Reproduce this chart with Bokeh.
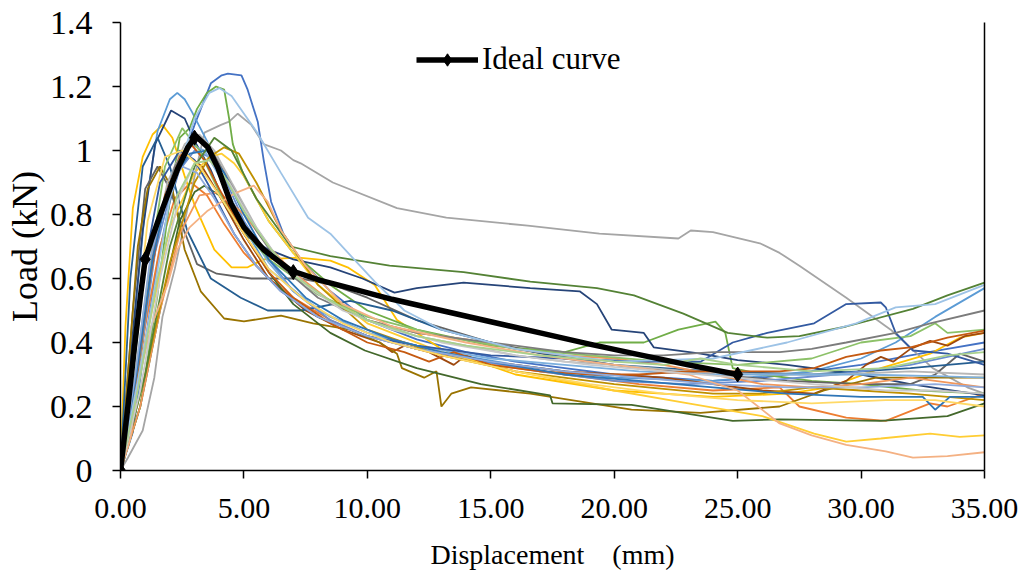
from bokeh.plotting import figure
from bokeh.models import Range1d, FixedTicker, NumeralTickFormatter, LinearAxis
from bokeh.embed import file_html
from bokeh.resources import INLINE

# ---------------- data ----------------
disp_01 = [0,0.5,1.0,1.5,2.0,2.5,3.0,3.66,4.1,4.35,4.9,5.15,5.56,5.8,6.1,6.6,7.3,8.5,10,12,14,16,18,20,22,24,26,28,30,32,33.5,35]
load_01 = [0,0.12,0.40,0.65,0.84,0.97,1.08,1.21,1.235,1.24,1.235,1.19,1.09,0.97,0.84,0.74,0.66,0.56,0.47,0.41,0.37,0.34,0.32,0.30,0.29,0.28,0.29,0.31,0.33,0.36,0.38,0.40]

disp_02 = [0,0.5,1.0,1.6,2.2,2.85,3.5,4.2,5,6,7,8.5,10,12,15,18,21,24,26.7,27.5,29.4,31,32.8,33.5,35]
load_02 = [0,0.18,0.45,0.70,0.85,0.90,0.86,0.77,0.68,0.60,0.54,0.47,0.42,0.38,0.33,0.30,0.27,0.25,0.26,0.20,0.165,0.155,0.21,0.20,0.24]

disp_03 = [0,0.3,0.9,1.37,1.7,2.2,2.8,3.4,4.07,4.4,4.75,5.3,5.8,6.5,7.0,7.3,8.6,11.2,13.2,16.5,19.4,22.6,23.1,24,25.9,26.7,27.5,29.4,31.2,32.9,34.3,35]
load_03 = [0,0.04,0.125,0.29,0.48,0.63,0.85,1.056,1.08,1.09,1.115,1.08,1.02,1.0,0.97,0.96,0.90,0.82,0.79,0.765,0.74,0.725,0.75,0.745,0.71,0.68,0.64,0.54,0.44,0.32,0.26,0.24]

disp_04 = [0,0.2,0.5,0.9,1.3,1.7,2.1,2.6,3.0,3.8,4.5,5.15,5.8,7.2,8.5,9.2,10.3,11.2,13,16,20,24,27,28.7,30.8,32.8,34,35]
load_04 = [0,0.45,0.82,0.98,1.05,1.08,1.04,0.92,0.83,0.69,0.635,0.635,0.66,0.665,0.656,0.635,0.58,0.47,0.38,0.30,0.25,0.23,0.24,0.26,0.32,0.365,0.415,0.43]

disp_05 = [0,0.5,1.0,1.5,2.0,2.3,2.6,2.9,3.5,4.2,5,6,8,10,13,16,20,24,28,30,31.4,33,35]
load_05 = [0,0.42,0.82,1.06,1.16,1.18,1.16,1.12,1.03,0.90,0.76,0.63,0.50,0.43,0.37,0.33,0.29,0.28,0.31,0.35,0.40,0.48,0.57]

disp_06 = [0,0.8,1.5,2.0,2.4,2.8,3.1,3.5,3.87,4.2,4.4,4.55,5,6,7,8.5,10,12,15,18,19.4,21.2,22.6,24.1,24.5,24.8,26,28,30,32.4,35]
load_06 = [0,0.2,0.55,0.85,1.04,1.07,1.13,1.18,1.20,1.19,1.10,1.02,0.92,0.78,0.68,0.58,0.50,0.44,0.39,0.37,0.40,0.40,0.44,0.465,0.43,0.32,0.30,0.28,0.27,0.25,0.24]

disp_07 = [0,0.4,0.9,1.4,2.05,2.6,3.0,3.65,4.3,5.15,6,7,8.5,9.8,11.1,12,13.9,16.6,18.6,19.3,19.9,21.2,21.6,23.5,25,27,30,32,35]
load_07 = [0,0.35,0.75,1.02,1.125,1.10,1.03,0.94,0.82,0.73,0.69,0.66,0.635,0.60,0.556,0.57,0.587,0.57,0.56,0.52,0.44,0.43,0.385,0.365,0.345,0.33,0.30,0.27,0.235]

disp_08 = [0,0.6,1.2,1.8,2.4,2.8,3.3,4,5,6,7.5,9,10.5,11,11.5,12.5,13.5,14,14.6,16,18,20,22,24,26,28.1,29.4,30.2,30.8,31.3,32,32.8,33.5,34.2,35]
load_08 = [0,0.25,0.6,0.85,0.95,0.98,0.95,0.86,0.72,0.60,0.50,0.44,0.40,0.37,0.39,0.37,0.33,0.36,0.34,0.33,0.31,0.30,0.29,0.27,0.25,0.24,0.28,0.33,0.355,0.34,0.38,0.405,0.39,0.42,0.43]

disp_09 = [0,0.5,1.0,1.5,2.0,2.45,3.1,3.9,5.3,7.3,8.6,10,12,15,18,21,24,27,30,32,33,34,35]
load_09 = [0,0.5,0.88,0.95,0.88,0.775,0.645,0.615,0.60,0.60,0.58,0.54,0.47,0.40,0.35,0.32,0.30,0.28,0.27,0.27,0.30,0.365,0.34]

disp_10 = [0,0.3,0.7,1.1,1.6,2.1,2.6,3.25,4.2,5.0,6.5,7.8,9.3,10.5,11.2,11.4,12.3,12.8,13.0,13.4,14.2,16.6,20.7,23.5,26.7,28.5,30.6,33,35]
load_10 = [0,0.3,0.7,0.88,0.95,0.88,0.69,0.56,0.475,0.466,0.484,0.46,0.44,0.40,0.365,0.32,0.29,0.31,0.20,0.24,0.26,0.24,0.19,0.18,0.20,0.25,0.29,0.29,0.29]

disp_11 = [0,0.4,0.9,1.5,2.0,2.7,3.66,4.87,5.96,7.3,9.3,11,13,16,20,24,28,32,35]
load_11 = [0,0.6,0.95,1.04,0.95,0.75,0.60,0.54,0.50,0.50,0.53,0.50,0.44,0.38,0.33,0.31,0.30,0.32,0.34]

disp_12 = [0,0.8,1.6,2.4,3.0,3.4,4.0,5,6,7,8.5,9.9,12,14.6,17.4,17.5,20.7,24.8,26.7,30.8,33.5,35]
load_12 = [0,0.2,0.5,0.78,0.87,0.89,0.86,0.74,0.62,0.52,0.43,0.375,0.32,0.27,0.235,0.21,0.205,0.155,0.16,0.155,0.17,0.21]

disp_13 = [0,0.7,1.4,2.2,3.0,3.6,4.3,5,6,7,8.5,10,12,14,17,20,23,26,29,32,35]
load_13 = [0,0.3,0.68,0.92,1.0,0.98,0.90,0.78,0.66,0.56,0.47,0.42,0.38,0.35,0.31,0.28,0.27,0.28,0.30,0.33,0.38]

disp_14 = [0,0.8,1.6,2.4,3.2,4.0,5.0,6.0,7,8.5,10,12,14,16,18,20,22,24,26,28,30,32,35]
load_14 = [0,0.2,0.5,0.74,0.86,0.87,0.80,0.70,0.62,0.53,0.47,0.43,0.41,0.38,0.36,0.35,0.33,0.30,0.27,0.26,0.27,0.29,0.26]

disp_15 = [0,0.6,1.2,1.9,2.6,3.2,3.8,4.5,5.5,6.5,8,10,12,14,16,18,20,23,26,29,32,35]
load_15 = [0,0.28,0.64,0.90,1.02,1.05,1.0,0.90,0.76,0.65,0.55,0.47,0.42,0.39,0.36,0.34,0.33,0.31,0.30,0.30,0.31,0.30]

disp_16 = [0,0.5,1.0,2.0,3.0,3.6,4.1,4.6,5,6,8,10,13,16,20,23,26,28.1,29.4,30.8,32.8,34,35]
load_16 = [0,0.2,0.40,0.76,0.93,0.98,0.99,0.96,0.92,0.78,0.58,0.46,0.37,0.31,0.25,0.21,0.17,0.115,0.09,0.10,0.115,0.105,0.11]

disp_17 = [0,0.7,1.4,2.1,2.8,3.4,4.0,5,6,7,8.5,10,12,15,18,21,24,27,30,33,35]
load_17 = [0,0.3,0.7,0.93,1.02,1.0,0.92,0.77,0.65,0.56,0.48,0.43,0.39,0.35,0.33,0.31,0.30,0.30,0.30,0.295,0.29]

disp_18 = [0,0.6,1.2,1.8,2.5,3.2,4,5,6,8,10,13,16,19,22,25,28,30,32,33,33.5,35]
load_18 = [0,0.3,0.65,0.95,1.07,1.0,0.87,0.75,0.66,0.55,0.48,0.42,0.38,0.36,0.34,0.33,0.35,0.40,0.42,0.46,0.43,0.44]

disp_19 = [0,0.5,1.0,1.6,2.4,3.0,3.8,4.6,5.5,6.5,8,10,12,15,18,21,23.5,24.8,26.2,28.1,29.4,30.8,31.0,31.4,32.1,33.5,35]
load_19 = [0,0.3,0.65,0.9,1.0,0.97,0.86,0.74,0.64,0.56,0.48,0.42,0.39,0.36,0.35,0.34,0.34,0.40,0.43,0.46,0.52,0.525,0.51,0.43,0.375,0.365,0.33]

disp_20 = [0,0.6,1.2,1.8,2.4,2.85,3.4,4.0,5,6,7,8.5,10,11.5,12.5,13.5,15,17,19,21,23,25,26.7,28.1,29.4,30.8,32,33.5,35]
load_20 = [0,0.25,0.6,0.86,0.98,1.02,0.97,0.88,0.74,0.62,0.54,0.46,0.40,0.37,0.34,0.37,0.33,0.31,0.30,0.30,0.31,0.31,0.31,0.32,0.355,0.375,0.385,0.415,0.437]

disp_21 = [0,0.7,1.4,2.2,3.0,3.7,4.5,5.5,6.5,8,10,12,14,16,18,20,22,24,26.7,28,29.4,31.4,32.8,35]
load_21 = [0,0.32,0.72,0.95,1.04,1.0,0.89,0.75,0.64,0.54,0.47,0.43,0.41,0.39,0.37,0.36,0.36,0.37,0.37,0.38,0.40,0.43,0.46,0.50]

disp_22 = [0,1,2,3,3.6,4.2,4.8,5.5,6.5,8,10,13,16,20,24,25.9,28,30,32,35]
load_22 = [0,0.3,0.65,0.90,0.98,1.01,0.99,0.90,0.75,0.58,0.44,0.36,0.31,0.27,0.24,0.24,0.26,0.25,0.24,0.22]

disp_23 = [0,0.6,1.3,2.0,2.8,3.5,4.2,5,6,7.5,9,11,13,15,18,21,24,27,30,32.5,33,33.6,35]
load_23 = [0,0.28,0.66,0.90,0.99,1.0,0.93,0.80,0.66,0.54,0.47,0.41,0.37,0.34,0.30,0.28,0.26,0.24,0.23,0.23,0.19,0.23,0.23]

disp_24 = [0,1,2,3,3.8,4.5,5.5,6.9,8.5,10.9,13.9,16.6,19.3,20.8,22.8,24.6,26.2,27.5,29.4,32.1,33.5,35]
load_24 = [0,0.3,0.7,0.95,1.04,1.0,0.85,0.70,0.67,0.64,0.62,0.59,0.57,0.547,0.49,0.43,0.415,0.42,0.45,0.505,0.547,0.587]

disp_25 = [0,0.6,1.2,1.9,2.5,3.1,3.8,4.6,5.5,6.5,8,10,12,15,18,21,24,27,30,33,35]
load_25 = [0,0.3,0.66,0.88,0.95,0.93,0.85,0.74,0.64,0.56,0.48,0.42,0.38,0.34,0.31,0.29,0.27,0.26,0.26,0.27,0.26]

disp_26 = [0,0.4,0.7,1.24,1.9,2.3,2.8,3.5,4.6,5.4,5.96,6.5,7.5,9,11,14,17,20,23,25,26.7,28,29.4,31,32.1,33.5,35]
load_26 = [0,0.1,0.27,0.45,0.58,0.69,0.76,0.81,0.865,0.89,0.84,0.75,0.64,0.52,0.45,0.40,0.36,0.33,0.30,0.25,0.147,0.11,0.08,0.06,0.04,0.045,0.057]

disp_27 = [0,0.8,1.6,2.4,3.0,3.6,4.4,5.3,6.3,7.5,9,11,13,16,19,22,25,28,31,33,35]
load_27 = [0,0.25,0.6,0.86,0.96,0.97,0.90,0.78,0.67,0.58,0.50,0.44,0.40,0.36,0.33,0.31,0.29,0.27,0.25,0.25,0.24]

disp_28 = [0,0.5,1.1,1.8,2.5,3.2,4,5,6,7.5,9,11,13,16,19,22,25,28,31,33,35]
load_28 = [0,0.35,0.78,0.98,1.0,0.95,0.86,0.74,0.63,0.53,0.46,0.40,0.36,0.31,0.27,0.24,0.22,0.21,0.22,0.22,0.20]

disp_29 = [0,1,2,3,3.6,4.0,4.5,5.5,6.5,7.6,8.5,10.3,11.5,13,16,20,24,27,29.8,31.4,33,35]
load_29 = [0,0.4,0.85,1.1,1.18,1.195,1.17,1.06,0.93,0.79,0.74,0.59,0.50,0.44,0.38,0.34,0.35,0.40,0.46,0.51,0.52,0.58]

disp_30 = [0,0.7,1.5,2.3,3.0,3.6,4.2,5,6,7,8.5,10,12,14,17,20,22,23.5,25,28,31,33.5,35]
load_30 = [0,0.25,0.6,0.86,0.96,0.97,0.92,0.81,0.70,0.61,0.53,0.47,0.42,0.39,0.36,0.34,0.33,0.35,0.33,0.31,0.32,0.36,0.37]

series_colors = ["#4472C4", "#ED7D31", "#A5A5A5", "#FFC000", "#5B9BD5", "#70AD47",
                 "#264478", "#9E480E", "#636363", "#997300", "#255E91", "#43682B",
                 "#698ED0", "#F1975A", "#B7B7B7", "#FFCD33", "#7CAFDD", "#8CC168",
                 "#335AA1", "#C55A11", "#7C7C7C", "#BF9000", "#2E75B6", "#548235",
                 "#8FAADC", "#F4B183", "#C9C9C9", "#FFD966", "#9DC3E6", "#A9D18E"]

# ideal curve: markers and the smoothed line
ideal_disp = [0, 1, 3, 7, 25]
ideal_load = [0, 0.66, 1.04, 0.62, 0.30]
ideal_line_disp = [0,0.3,0.55,0.8,1.0,1.25,1.5,1.76,2.05,2.33,2.73,3.05,3.54,3.95,4.47,5.0,5.8,6.9,8.1,9.3,11,13,15,17,19,21,23,25]
ideal_line_load = [0,0.2,0.375,0.54,0.66,0.72,0.775,0.83,0.89,0.945,1.01,1.045,1.01,0.945,0.835,0.76,0.69,0.625,0.594,0.57,0.535,0.50,0.465,0.43,0.395,0.362,0.33,0.30]

x_ticks = [0, 5, 10, 15, 20, 25, 30, 35]
y_ticks = [0, 0.2, 0.4, 0.6, 0.8, 1.0, 1.2, 1.4]
y_tick_labels = ["0", "0.2", "0.4", "0.6", "0.8", "1", "1.2", "1.4"]

series = [(disp_01, load_01), (disp_02, load_02), (disp_03, load_03), (disp_04, load_04),
          (disp_05, load_05), (disp_06, load_06), (disp_07, load_07), (disp_08, load_08),
          (disp_09, load_09), (disp_10, load_10), (disp_11, load_11), (disp_12, load_12),
          (disp_13, load_13), (disp_14, load_14), (disp_15, load_15), (disp_16, load_16),
          (disp_17, load_17), (disp_18, load_18), (disp_19, load_19), (disp_20, load_20),
          (disp_21, load_21), (disp_22, load_22), (disp_23, load_23), (disp_24, load_24),
          (disp_25, load_25), (disp_26, load_26), (disp_27, load_27), (disp_28, load_28),
          (disp_29, load_29), (disp_30, load_30)]

FONT = "Liberation Serif"

p = figure(frame_width=864, frame_height=448, output_backend="svg", toolbar_location=None,
           x_range=Range1d(0, 35), y_range=Range1d(0, 1.4),
           min_border_left=120, min_border_right=36, min_border_top=22, min_border_bottom=106)
p.outline_line_color = None
p.background_fill_color = "white"
p.border_fill_color = "white"
p.xgrid.grid_line_color = None
p.ygrid.grid_line_color = None

for (xs, ys), c in zip(series, series_colors):
    p.line(xs, ys, line_color=c, line_width=1.8)

p.line(ideal_line_disp, ideal_line_load, line_color="black", line_width=5.5,
       line_join="round", legend_label="Ideal curve")
p.scatter(ideal_disp, ideal_load, marker="diamond", size=15, color="black",
          legend_label="Ideal curve")

# axes
xa = p.xaxis[0]
xa.ticker = FixedTicker(ticks=x_ticks)
xa.formatter = NumeralTickFormatter(format="0.00")
xa.axis_label = "Displacement \u00a0\u00a0\u00a0(mm)"
ya = p.yaxis[0]
ya.ticker = FixedTicker(ticks=y_ticks)
ya.major_label_overrides = {t: l for t, l in zip(y_ticks, y_tick_labels)}
ya.axis_label = "Load (kN)"

for ax in (xa, ya):
    ax.axis_line_color = "black"
    ax.axis_line_width = 1.5
    ax.major_tick_line_color = "black"
    ax.major_tick_line_width = 1.5
    ax.major_tick_in = 0
    ax.major_tick_out = 8
    ax.minor_tick_line_color = None
    ax.major_label_text_font = FONT
    ax.axis_label_text_font = FONT
    ax.major_label_text_color = "black"
    ax.axis_label_text_color = "black"
    ax.axis_label_text_font_style = "normal"

xa.major_label_text_font_size = "30px"
xa.axis_label_text_font_size = "28px"
xa.major_label_standoff = 20
xa.axis_label_standoff = 18
ya.major_label_text_font_size = "34px"
ya.axis_label_text_font_size = "36px"
ya.major_label_standoff = 20
ya.axis_label_standoff = 2

right_ax = LinearAxis(ticker=FixedTicker(ticks=[]), axis_line_color="black", axis_line_width=1.5,
                      major_tick_line_color=None, minor_tick_line_color=None,
                      major_label_text_font_size="0px")
p.add_layout(right_ax, "right")

leg = p.legend[0]
leg.location = (296, 393)
leg.border_line_color = None
leg.background_fill_alpha = 0
leg.padding = 0
leg.margin = 0
leg.glyph_width = 62
leg.glyph_height = 31
leg.label_text_font = FONT
leg.label_text_font_size = "31px"
leg.label_text_color = "black"
leg.label_standoff = 4

open("out.html", "w").write(file_html(p, INLINE))
